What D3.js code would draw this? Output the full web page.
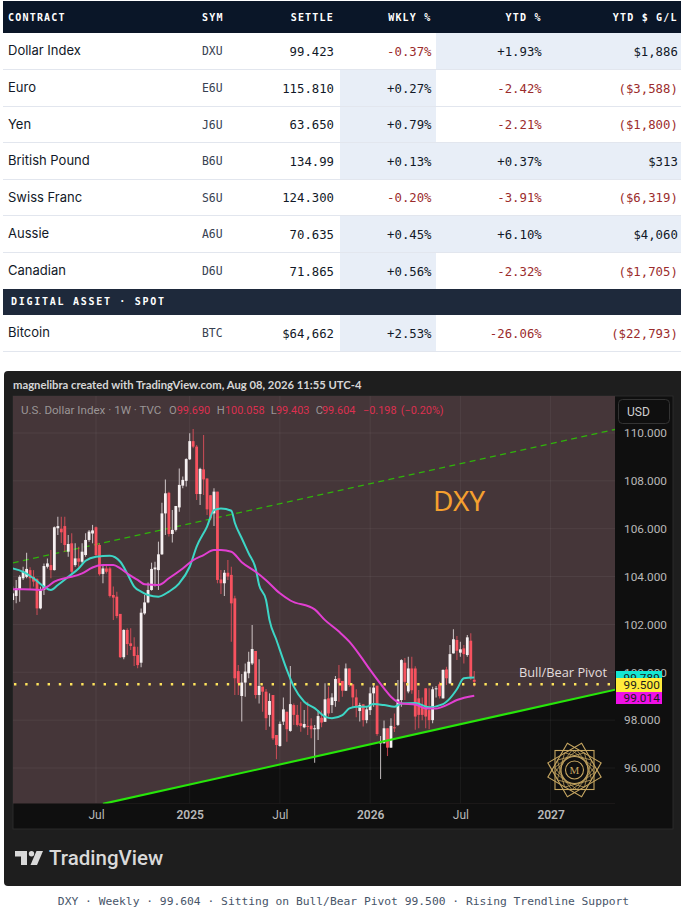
<!DOCTYPE html>
<html><head><meta charset="utf-8">
<script src="https://cdn.jsdelivr.net/npm/d3@7/dist/d3.min.js"></script>
<style>html,body{margin:0;padding:0;background:#fff}svg{display:block}</style>
</head><body><div id="c"></div>
<script>
// ---------- table data ----------
const contracts=["Dollar Index","Euro","Yen","British Pound","Swiss Franc","Aussie","Canadian","Bitcoin"];
const symbols=["DXU","E6U","J6U","B6U","S6U","A6U","D6U","BTC"];
const settles=["99.423","115.810","63.650","134.99","124.300","70.635","71.865","$64,662"];
const weeklyPct=["-0.37%","+0.27%","+0.79%","+0.13%","-0.20%","+0.45%","+0.56%","+2.53%"];
const ytdPct=["+1.93%","-2.42%","-2.21%","+0.37%","-3.91%","+6.10%","-2.32%","-26.06%"];
const ytdUsd=["$1,886","($3,588)","($1,800)","$313","($6,319)","$4,060","($1,705)","($22,793)"];
const headers=["CONTRACT","SYM","SETTLE","WKLY %","YTD %","YTD $ G/L"];
const sectionLabel="DIGITAL ASSET · SPOT";
const rowTops=[33,70,107,143,180,216,253,315];
const rowBottoms=[69.5,106.5,142.5,179.5,215.5,252.5,289,351.5];

// ---------- weekly candles: week of 15 Jan 2024 onward ----------
const opens=[103.02,103.19,103.44,103.93,103.99,104.27,103.99,103.89,102.67,103.44,
104.41,104.48,104.27,106.02,106.0,106.11,105.04,105.39,104.48,104.76,
104.62,104.9,105.53,105.8,106.06,105.32,104.11,104.34,104.34,103.23,
103.16,102.44,100.63,101.77,101.21,101.07,100.72,100.4,102.46,102.92,
103.44,104.3,104.27,104.93,106.64,107.5,105.78,105.95,106.89,107.8,
108.0,108.9,109.66,109.43,107.45,108.48,108.1,107.4,106.64,107.55,
103.88,103.72,104.16,104.07,103.09,100.05,99.01,99.57,99.96,100.37,
100.89,99.05,99.4,99.19,98.22,99.05,97.38,96.92,97.94,98.35,
97.55,98.63,98.22,97.87,97.7,97.76,97.77,97.62,97.62,98.1,
97.93,98.91,98.63,98.8,99.75,99.64,99.23,100.16,99.5,98.95,
98.38,98.66,98.0,98.42,99.12,99.44,97.03,97.03,97.66,96.85,
97.7,97.8,98.84,100.4,99.2,100.16,100.16,98.91,98.56,99.33,
98.42,98.0,99.29,99.5,98.91,100.12,99.54,100.79,101.35,100.82,
101.0,100.72,101.32,99.69];
const highs=[103.58,103.86,104.06,104.41,105.0,104.39,104.27,103.93,103.58,104.55,
104.76,105.11,106.09,106.5,106.5,106.5,105.74,105.81,105.39,105.25,
105.39,105.81,105.95,106.16,106.09,105.39,104.48,104.48,104.41,103.58,
103.37,102.44,101.8,101.84,101.84,101.46,101.07,102.67,103.23,103.75,
104.58,104.62,105.46,107.09,108.06,107.55,106.78,106.95,108.52,108.18,
108.94,109.99,110.17,109.5,108.55,109.92,108.1,107.41,107.69,107.55,
104.27,104.27,104.69,104.41,103.2,100.3,99.93,100.37,100.86,101.98,
100.89,100.54,99.4,99.3,99.12,99.05,97.38,97.94,98.95,98.35,
100.26,98.7,98.63,98.77,98.42,98.77,98.08,97.8,98.42,98.4,
99.54,99.4,99.12,99.84,100.3,99.64,100.37,100.16,99.5,99.29,
98.73,98.66,98.56,99.37,99.47,99.44,97.34,97.98,97.66,98.08,
98.28,99.68,100.54,100.6,100.65,100.65,100.25,99.26,98.95,99.33,
99.33,99.4,99.43,99.6,100.12,100.23,101.14,101.8,101.52,101.28,
101.14,101.56,101.63,100.058];
const lows=[102.6,102.88,102.95,103.86,103.93,103.44,103.58,102.39,102.63,103.23,
104.34,103.93,104.25,105.74,105.4,105.04,104.83,104.13,104.41,104.41,
104.55,104.83,105.46,105.39,104.86,104.04,103.72,104.13,103.13,102.19,
102.26,100.6,100.54,100.72,100.93,100.26,100.17,100.21,102.4,102.88,
103.41,103.58,103.44,104.9,105.74,105.67,105.42,105.88,106.71,107.69,
107.76,108.87,109.36,107.2,106.99,107.41,106.57,106.36,106.11,103.72,
103.27,103.19,103.86,101.28,99.05,99.05,97.94,98.98,99.75,100.3,
98.9,98.7,98.35,97.59,97.73,97.17,96.37,96.89,97.8,97.1,
97.52,97.8,97.73,97.52,97.66,97.38,97.24,96.22,97.17,97.7,
97.93,98.15,98.3,98.56,98.77,98.98,99.22,99.4,98.56,98.12,
97.94,97.73,97.87,98.22,98.56,97.35,95.54,97.03,96.5,96.85,
97.5,97.76,98.56,98.84,99.12,99.1,97.6,97.66,98.0,97.66,
97.62,97.87,98.95,98.9,98.9,99.47,99.51,100.79,100.51,100.65,
100.37,100.65,99.68,99.403];
const closes=[103.3,103.51,103.99,104.21,104.32,103.93,103.79,102.67,103.48,104.44,
104.55,104.27,106.06,106.11,105.85,105.32,105.36,104.2,104.76,104.62,
105.04,105.53,105.88,105.93,104.9,104.1,104.34,104.2,103.19,103.12,
102.35,100.63,101.77,101.18,101.1,100.68,100.3,102.49,102.92,103.44,
104.32,104.38,104.93,106.64,107.48,105.78,105.95,106.95,107.83,108.04,
108.91,109.66,109.43,107.45,108.5,108.06,106.81,106.43,107.55,103.86,
103.72,104.16,104.0,102.88,99.75,99.54,99.57,100.03,100.44,100.97,
99.05,99.43,99.19,98.08,98.8,97.24,96.96,97.84,98.45,97.62,
98.67,98.22,97.8,97.76,97.84,97.73,97.62,97.66,98.17,97.9,
98.87,98.28,98.95,99.72,99.54,99.23,100.16,99.47,98.95,98.54,
98.63,98.0,98.45,99.12,99.36,97.42,97.1,97.66,96.85,97.76,
97.66,98.87,100.51,99.6,100.16,99.25,98.15,98.22,98.22,98.15,
98.0,99.29,99.33,99.0,100.1,99.75,100.76,101.38,100.9,100.96,
100.76,101.46,99.75,99.604];
const firstWeek=new Date(Date.UTC(2024,0,15));

// ---------- moving averages: week number counted from 1 Jul 2024 ----------
const tealWeeks=[-24,-21,-18,-15,-13,-11,-8,-5,-3,0,4,7,9,11,13,15,18,21,24,27,29,32,34,36,39,40,42,44,46,47,49,50,52,55,57,60,63,66,68,71,73,75,78,80,83,86,88,92,96,100,102,104,106,109];
const tealVals=[104.34,104.2,103.93,103.58,103.44,103.65,103.99,104.34,104.66,104.83,104.87,104.62,104.13,103.58,103.37,103.23,103.16,103.37,103.72,104.41,105.25,106.09,106.78,106.85,106.75,106.25,105.6,104.97,104.34,103.65,103.02,102.18,101.35,100.1,99.4,98.77,98.5,98.15,98.08,98.21,98.49,98.56,98.56,98.67,98.63,98.56,98.7,98.72,98.54,98.67,98.91,99.29,99.75,99.78];
const pinkWeeks=[-24,-21,-16,-14,-12,-9,-7,-4,-1,2,5,7,9,12,14,18,21,25,28,31,34,36,39,42,46,49,53,56,63,66,70,73,76,79,83,85,88,92,95,98,101,104,109];
const pinkVals=[103.47,103.47,103.44,103.58,103.79,103.93,103.99,104.13,104.38,104.48,104.48,104.34,104.13,103.86,103.68,103.65,103.93,104.34,104.69,104.9,105.11,105.11,105.04,104.6,104.2,103.85,103.3,103.0,102.63,102.18,101.7,101.28,100.72,100.1,99.33,98.98,98.7,98.65,98.49,98.49,98.63,98.84,99.02];

// ---------- trend lines, levels, ticks ----------
const supportWeeks=[2,149.6], supportVals=[94.5,99.27];
const resistWeeks=[-24,149.6], resistVals=[104.57,110.15];
const pivotLevel=99.5;
const priceTicks=[110,108,106,104,102,100,98,96];
const timeTicks=["2024-07-01","2025-01-06","2025-07-07","2026-01-05","2026-07-06","2027-01-04"];
const timeLabels=["Jul","2025","Jul","2026","Jul","2027"];
const tagLevels=[99.789,99.5,99.014];
const tagColors=["#14e6d2","#ffeb3b","#f010e6"];

// ---------- layout ----------
const W=681,H=911, pane={l:13,r:615,t:396,b:803.5}, axisR=673, axisB=829;
const svg=d3.select("#c").append("svg").attr("width",W).attr("height",H);
const MONO="'DejaVu Sans Mono',monospace", SANS="Inter,sans-serif", ROB="Roboto,sans-serif";
const isUp=s=>s[0]==="+"||s[0]==="$";

// ---------- table ----------
const colRight=[null,null,334,431.5,541.7,677.8];
const hl={wk:[340,436],yt:[436,546],us:[546,681]};
const T=svg.append("g");
T.append("rect").attr("x",3).attr("y",1).attr("width",678).attr("height",32).attr("fill","#0a1628");
headers.forEach((h,i)=>{
  const t=T.append("text").text(h).attr("y",21).attr("fill","#fff").attr("font-family",MONO)
   .attr("font-weight",700).attr("font-size",10).attr("letter-spacing",1.2);
  if(i===0)t.attr("x",8); else if(i===1)t.attr("x",202); else t.attr("x",colRight[i]).attr("text-anchor","end");
});
contracts.forEach((c,i)=>{
  const top=rowTops[i],bot=rowBottoms[i],g=T.append("g");
  [[weeklyPct,hl.wk],[ytdPct,hl.yt],[ytdUsd,hl.us]].forEach(([arr,r])=>{
    if(isUp(arr[i]))g.append("rect").attr("x",r[0]).attr("y",top).attr("width",r[1]-r[0]).attr("height",bot-top).attr("fill","#e8eef7");
  });
  if(i!==6)g.append("line").attr("x1",3).attr("x2",681).attr("y1",bot).attr("y2",bot).attr("stroke","#e2e6ee").attr("stroke-width",1);
  else g.append("line").attr("x1",3).attr("x2",681).attr("y1",252.5).attr("y2",252.5).attr("stroke","#e2e6ee");
  const cy=(top+bot)/2+4.5;
  g.append("text").text(c).attr("x",8).attr("y",cy-0.3).attr("font-family",SANS).attr("font-size",13).attr("font-weight",400).attr("fill","#111827");
  g.append("text").text(symbols[i]).attr("x",202).attr("y",cy-0.3).attr("font-family",MONO).attr("font-size",11.4).attr("fill","#374151");
  [[settles,2,"#111827"],[weeklyPct,3],[ytdPct,4],[ytdUsd,5]].forEach(([arr,ci,col])=>{
    g.append("text").text(arr[i]).attr("x",colRight[ci]).attr("y",cy).attr("text-anchor","end")
     .attr("font-family",MONO).attr("font-size",12.3).attr("fill",col||(isUp(arr[i])?"#111827":"#9b2c2c"));
  });
});
T.append("rect").attr("x",3).attr("y",289).attr("width",678).attr("height",26).attr("fill","#1e293b");
T.append("text").text(sectionLabel).attr("x",11).attr("y",305).attr("fill","#fff").attr("font-family",MONO)
 .attr("font-weight",700).attr("font-size",10).attr("letter-spacing",1.72);

// ---------- chart panel ----------
const C=svg.append("g");
C.append("path").attr("d","M4,375 a4,4 0 0 1 4,-4 H681 V886 H8 a4,4 0 0 1 -4,-4 Z").attr("fill","#1e1e1e");
C.append("rect").attr("x",pane.l).attr("y",pane.t).attr("width",axisR-pane.l).attr("height",axisB-pane.t).attr("fill","#0f0f0f").attr("stroke","#2b2b2b");
C.append("rect").attr("x",pane.l).attr("y",pane.t).attr("width",pane.r-pane.l).attr("height",pane.b-pane.t).attr("fill","#453639");

const x=d3.scaleUtc().domain([new Date(Date.UTC(2024,6,1)),new Date(Date.UTC(2027,0,4))]).range([96,550.6]);
const y=d3.scaleLinear().domain([96,110]).range([768,433]);
const fracWk=n=>new Date(Date.UTC(2024,6,1)+n*6048e5);
const tDates=timeTicks.map(d=>new Date(d+"T00:00:00Z"));

svg.append("defs").append("clipPath").attr("id","cp").append("rect").attr("x",pane.l).attr("y",pane.t).attr("width",pane.r-pane.l).attr("height",pane.b-pane.t);
const P=C.append("g").attr("clip-path","url(#cp)");

// area under rising trendline
P.append("path").datum(supportWeeks.map((w,i)=>({w,v:supportVals[i]})))
 .attr("fill","#0f0f0f")
 .attr("d",d3.area().x(d=>x(fracWk(d.w))).y0(pane.b+2).y1(d=>y(d.v)));

// grid
P.selectAll("line.gy").data(priceTicks).join("line").attr("class","gy").attr("x1",pane.l).attr("x2",pane.r).attr("y1",d=>y(d)).attr("y2",d=>y(d)).attr("stroke","#fff").attr("stroke-opacity",0.055);
P.selectAll("line.gx").data(tDates).join("line").attr("class","gx").attr("y1",pane.t).attr("y2",pane.b).attr("x1",d=>x(d)).attr("x2",d=>x(d)).attr("stroke","#fff").attr("stroke-opacity",0.055);

// dashed resistance
const tl=d3.line().x(d=>x(fracWk(d.w))).y(d=>y(d.v));
P.append("path").datum(resistWeeks.map((w,i)=>({w,v:resistVals[i]}))).attr("d",tl).attr("fill","none").attr("stroke","#2fb30a").attr("stroke-width",1.4).attr("stroke-dasharray","6 4.4");

// candles
const candles=opens.map((o,i)=>({d:d3.utcMonday.offset(firstWeek,i),o,h:highs[i],l:lows[i],c:closes[i]}));
const UP="#f6f0f1",DN="#f7525f",bw=2.8;
const cg=P.append("g");
cg.selectAll("line").data(candles).join("line").attr("x1",d=>x(d.d)).attr("x2",d=>x(d.d)).attr("y1",d=>y(d.h)).attr("y2",d=>y(d.l))
 .attr("stroke",d=>d.c>=d.o?UP:DN).attr("stroke-opacity",0.7).attr("stroke-width",1.1);
cg.selectAll("rect").data(candles).join("rect").attr("x",d=>x(d.d)-bw/2).attr("width",bw)
 .attr("y",d=>y(Math.max(d.o,d.c))).attr("height",d=>Math.max(1,Math.abs(y(d.o)-y(d.c))))
 .attr("fill",d=>d.c>=d.o?UP:DN);

// moving averages
const ma=d3.line().x(d=>x(fracWk(d.w))).y(d=>y(d.v)).curve(d3.curveMonotoneX);
P.append("path").datum(tealWeeks.map((w,i)=>({w,v:tealVals[i]}))).attr("d",ma).attr("fill","none").attr("stroke","#3dd6c6").attr("stroke-width",2);
P.append("path").datum(pinkWeeks.map((w,i)=>({w,v:pinkVals[i]}))).attr("d",ma).attr("fill","none").attr("stroke","#e23fd2").attr("stroke-width",2);

// pivot & support
P.append("line").attr("x1",14).attr("x2",pane.r).attr("y1",y(pivotLevel)).attr("y2",y(pivotLevel)).attr("stroke","#ffe45c").attr("stroke-width",2.4).attr("stroke-dasharray","2.4 8.8");
P.append("path").datum(supportWeeks.map((w,i)=>({w,v:supportVals[i]}))).attr("d",tl).attr("fill","none").attr("stroke","#27e60a").attr("stroke-width",2.1);

// annotations
C.append("text").text("DXY").attr("x",433).attr("y",511).attr("font-family","'Noto Sans',sans-serif").attr("font-size",28).attr("fill","#f5a02f");
C.append("text").text("Bull/Bear Pivot").attr("x",519).attr("y",677).attr("font-family","'Open Sans',sans-serif").attr("font-weight",500).attr("font-size",12.8).attr("fill","#e2dcdc");

// axes
const ax=C.append("g").attr("transform",`translate(0,${pane.b})`).call(d3.axisBottom(x).tickValues(tDates).tickSize(0).tickPadding(7).tickFormat((d,i)=>timeLabels[i]));
ax.select(".domain").remove();
ax.selectAll("text").attr("font-family",ROB).attr("font-size",12).attr("fill","#b8b8b8").attr("font-weight",(d,i)=>/\d/.test(timeLabels[i])?600:400);
const ay=C.append("g").attr("transform",`translate(${pane.r},0)`).call(d3.axisRight(y).tickValues(priceTicks).tickSize(0).tickPadding(9).tickFormat(d3.format(".3f")));
ay.select(".domain").remove();
ay.selectAll("text").attr("font-family",ROB).attr("font-size",11.8).attr("fill","#b8b8b8");

// price tags
const tagBox=[[671,685],[678,692],[692,704]];
tagLevels.forEach((v,i)=>{
  C.append("rect").attr("x",616).attr("width",46).attr("y",tagBox[i][0]).attr("height",tagBox[i][1]-tagBox[i][0]).attr("fill",tagColors[i]);
  C.append("text").text(d3.format(".3f")(v)).attr("x",623.5).attr("y",(tagBox[i][0]+tagBox[i][1])/2+4.2).attr("font-family",ROB).attr("font-size",11.8).attr("fill","#1a1a1a");
});

// USD button
C.append("rect").attr("x",618.5).attr("y",399.5).attr("width",51).attr("height",24).attr("rx",4).attr("fill","#0f0f0f").attr("stroke","#333");
C.append("text").text("USD").attr("x",627).attr("y",416).attr("font-family",ROB).attr("font-size",12).attr("fill","#cfcfcf");

// header strings
C.append("text").text("magnelibra created with TradingView.com, Aug 08, 2026 11:55 UTC-4").attr("x",13).attr("y",389)
 .attr("font-family","Lato,sans-serif").attr("font-weight",700).attr("font-size",11.25).attr("fill","#d6d6d6");
const GR="#9a9596",RD="#dc3050";
const legendParts=[["U.S. Dollar Index · 1W · TVC",21,GR,11.6],["O",169,GR,11.2],["99.690",176.7,RD,10.9],["H",216.7,GR,11.2],["100.058",225,RD,10.9],["L",270.7,GR,11.2],["99.403",276,RD,10.9],["C",315.7,GR,11.2],["99.604",322,RD,10.9],["−0.198",363,RD,10.9],["(−0.20%)",400.7,RD,10.9]];
legendParts.forEach(([s,px,col,fs])=>C.append("text").text(s).attr("x",px).attr("y",414).attr("font-family",ROB).attr("font-size",fs).attr("fill",col));

// watermark emblem
const E=C.append("g").attr("transform","translate(574.5,770)").attr("fill","none").attr("stroke","#c6a661").attr("stroke-width",1.1);
[0,30,60].forEach(a=>E.append("rect").attr("x",-19.5).attr("y",-19.5).attr("width",39).attr("height",39).attr("transform",`rotate(${a})`));
[15,37.5,52.5,75].forEach(a=>E.append("rect").attr("x",-14).attr("y",-14).attr("width",28).attr("height",28).attr("transform",`rotate(${a})`).attr("stroke-width",0.7));
E.append("circle").attr("r",13.5).attr("fill","#0f0f0f");
E.append("circle").attr("r",9);
E.append("text").text("M").attr("y",4).attr("text-anchor","middle").attr("font-family","'Liberation Serif',serif").attr("font-size",11).attr("fill","#c6a661").attr("stroke","none");

// TradingView wordmark
const L=C.append("g").attr("fill","#d9d9d9");
L.append("path").attr("d","M15,851 H27 V865 H21 V856.5 H15 Z");
L.append("circle").attr("cx",31.5).attr("cy",853.7).attr("r",2.7);
L.append("path").attr("d","M36.5,851 H43 L37,865 H30.5 Z");
L.append("text").text("TradingView").attr("x",49).attr("y",865).attr("font-family",ROB).attr("font-weight",500).attr("font-size",20.5);

// caption
svg.append("text").text("DXY · Weekly · 99.604 · Sitting on Bull/Bear Pivot 99.500 · Rising Trendline Support")
 .attr("x",343.5).attr("y",905).attr("text-anchor","middle").attr("font-family",MONO).attr("font-size",11.3).attr("fill","#475569");
</script></body></html>
